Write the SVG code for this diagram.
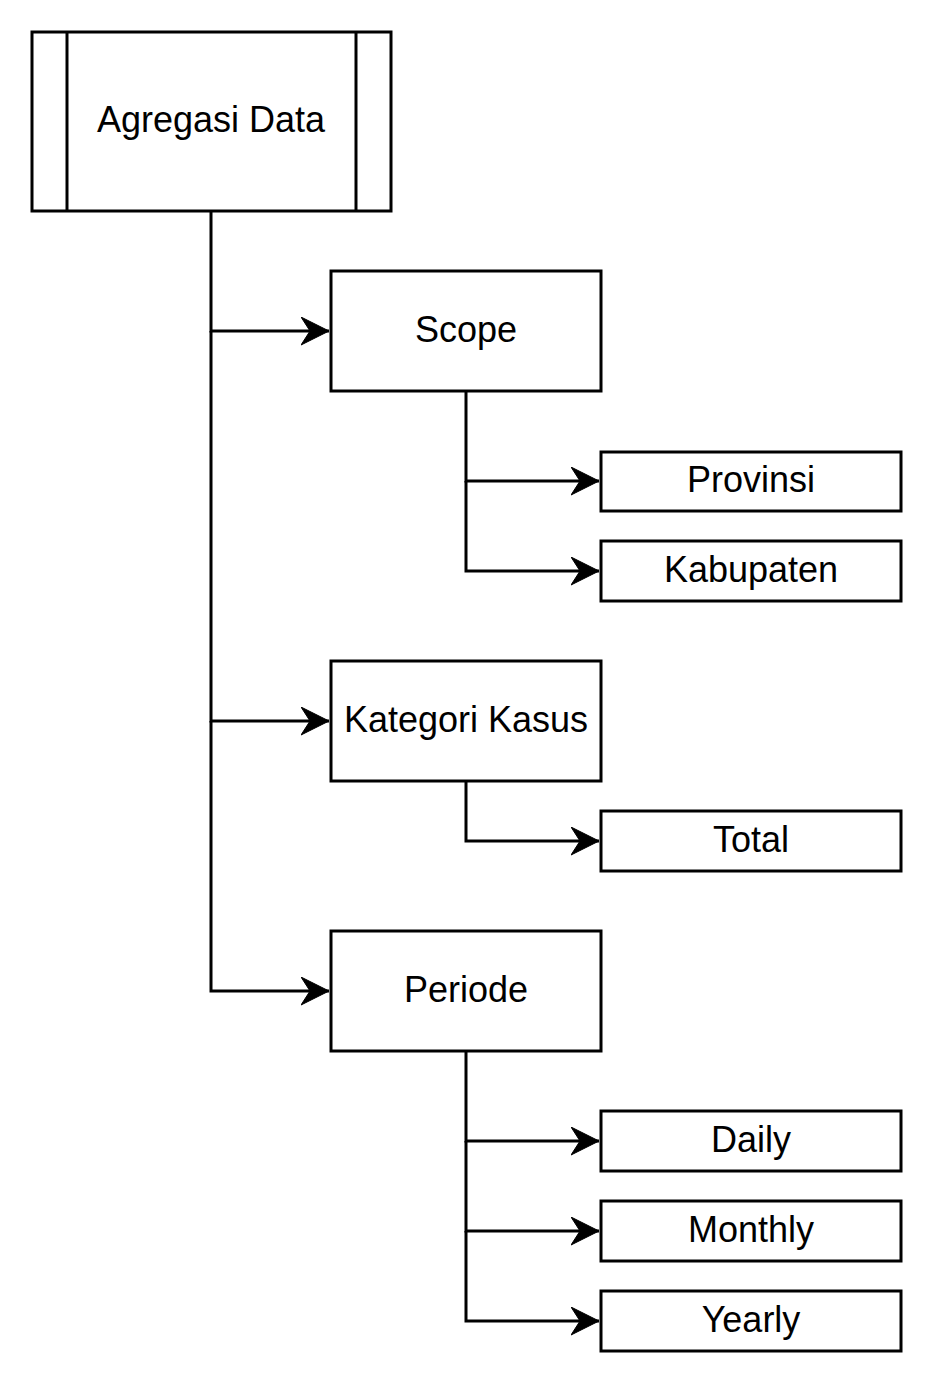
<svg xmlns="http://www.w3.org/2000/svg" width="933" height="1383" viewBox="0 0 933 1383">
<style>
.box{fill:#fff;stroke:#000;stroke-width:3}
.ln{fill:none;stroke:#000;stroke-width:3}
text{font-family:"Liberation Sans",Arial,sans-serif;font-size:36px;fill:#000;text-anchor:middle;dominant-baseline:central}
</style>
<defs>
<marker id="arr" markerUnits="userSpaceOnUse" markerWidth="32" markerHeight="32" refX="28" refY="14" orient="auto" viewBox="0 0 32 32">
<path d="M28,14 L0,0 L9,14 L0,28 Z" fill="#000" stroke="#000" stroke-width="1" stroke-linejoin="miter"/>
</marker>
</defs>
<rect width="933" height="1383" fill="#fff"/>
<g id="connectors">
<path class="ln" d="M211,211 V331 H329" marker-end="url(#arr)"/>
<path class="ln" d="M211,331 V721 H329" marker-end="url(#arr)"/>
<path class="ln" d="M211,721 V991 H329" marker-end="url(#arr)"/>
<path class="ln" d="M466,391 V481 H599" marker-end="url(#arr)"/>
<path class="ln" d="M466,481 V571 H599" marker-end="url(#arr)"/>
<path class="ln" d="M466,781 V841 H599" marker-end="url(#arr)"/>
<path class="ln" d="M466,1051 V1141 H599" marker-end="url(#arr)"/>
<path class="ln" d="M466,1141 V1231 H599" marker-end="url(#arr)"/>
<path class="ln" d="M466,1231 V1321 H599" marker-end="url(#arr)"/>
</g>
<g id="agregasi">
<rect class="box" x="32" y="32" width="359" height="179"/>
<line class="ln" x1="67" y1="32" x2="67" y2="211"/>
<line class="ln" x1="356" y1="32" x2="356" y2="211"/>
<text x="211" y="119">Agregasi Data</text>
</g>
<g id="scope">
<rect class="box" x="331" y="271" width="270" height="120"/>
<text x="466" y="329">Scope</text>
</g>
<g id="provinsi">
<rect class="box" x="601" y="452" width="300" height="59"/>
<text x="751" y="479">Provinsi</text>
</g>
<g id="kabupaten">
<rect class="box" x="601" y="541" width="300" height="60"/>
<text x="751" y="569">Kabupaten</text>
</g>
<g id="kategori">
<rect class="box" x="331" y="661" width="270" height="120"/>
<text x="466" y="719">Kategori Kasus</text>
</g>
<g id="total">
<rect class="box" x="601" y="811" width="300" height="60"/>
<text x="751" y="839">Total</text>
</g>
<g id="periode">
<rect class="box" x="331" y="931" width="270" height="120"/>
<text x="466" y="989">Periode</text>
</g>
<g id="daily">
<rect class="box" x="601" y="1111" width="300" height="60"/>
<text x="751" y="1139">Daily</text>
</g>
<g id="monthly">
<rect class="box" x="601" y="1201" width="300" height="60"/>
<text x="751" y="1229">Monthly</text>
</g>
<g id="yearly">
<rect class="box" x="601" y="1291" width="300" height="60"/>
<text x="751" y="1319">Yearly</text>
</g>
</svg>
